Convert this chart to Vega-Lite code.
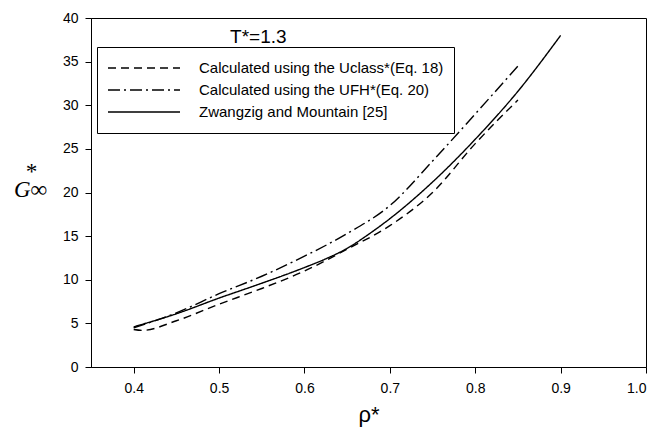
{
  "$schema": "https://vega.github.io/schema/vega-lite/v6.json",
  "autosize": {"type": "none"},
  "width": 555,
  "height": 349,
  "padding": {"left": 91, "top": 18, "right": 14, "bottom": 65},
  "background": "white",
  "config": {
    "view": {"stroke": "black", "strokeWidth": 1},
    "font": "Liberation Sans",
    "axis": {"labelFont": "Liberation Sans", "labelFontSize": 14, "labelColor": "black", "domainColor": "black", "tickColor": "black", "tickSize": 6, "grid": false}
  },
  "layer": [
    {
      "data": {"values": [
        {"s": "U_class", "rho": 0.40, "G": 4.3},
        {"s": "U_class", "rho": 0.41, "G": 4.2},
        {"s": "U_class", "rho": 0.45, "G": 5.3},
        {"s": "U_class", "rho": 0.50, "G": 7.2},
        {"s": "U_class", "rho": 0.55, "G": 9.0},
        {"s": "U_class", "rho": 0.60, "G": 11.0},
        {"s": "U_class", "rho": 0.65, "G": 13.5},
        {"s": "U_class", "rho": 0.70, "G": 16.2},
        {"s": "U_class", "rho": 0.75, "G": 20.0},
        {"s": "U_class", "rho": 0.80, "G": 25.6},
        {"s": "U_class", "rho": 0.85, "G": 30.6},
        {"s": "U_FH", "rho": 0.40, "G": 4.5},
        {"s": "U_FH", "rho": 0.45, "G": 6.2},
        {"s": "U_FH", "rho": 0.50, "G": 8.4},
        {"s": "U_FH", "rho": 0.55, "G": 10.4},
        {"s": "U_FH", "rho": 0.60, "G": 12.7},
        {"s": "U_FH", "rho": 0.65, "G": 15.3},
        {"s": "U_FH", "rho": 0.70, "G": 18.5},
        {"s": "U_FH", "rho": 0.75, "G": 23.6},
        {"s": "U_FH", "rho": 0.80, "G": 29.0},
        {"s": "U_FH", "rho": 0.85, "G": 34.5},
        {"s": "ZM", "rho": 0.40, "G": 4.6},
        {"s": "ZM", "rho": 0.45, "G": 6.1},
        {"s": "ZM", "rho": 0.50, "G": 7.9},
        {"s": "ZM", "rho": 0.55, "G": 9.6},
        {"s": "ZM", "rho": 0.60, "G": 11.4},
        {"s": "ZM", "rho": 0.625, "G": 12.4},
        {"s": "ZM", "rho": 0.65, "G": 13.6},
        {"s": "ZM", "rho": 0.675, "G": 15.2},
        {"s": "ZM", "rho": 0.70, "G": 17.0},
        {"s": "ZM", "rho": 0.75, "G": 21.2},
        {"s": "ZM", "rho": 0.80, "G": 26.1},
        {"s": "ZM", "rho": 0.85, "G": 31.6},
        {"s": "ZM", "rho": 0.90, "G": 38.0}
      ]},
      "mark": {"type": "line", "color": "black", "strokeWidth": 1.4, "interpolate": "monotone"},
      "encoding": {
        "x": {"field": "rho", "type": "quantitative",
              "scale": {"domain": [0.35, 1.0], "nice": false, "zero": false},
              "axis": {"values": [0.4, 0.5, 0.6, 0.7, 0.8, 0.9, 1.0], "format": ".1f", "labelPadding": 8,
                       "title": "ρ*", "titleFont": "Liberation Sans", "titleFontSize": 22, "titleFontWeight": "normal", "titleColor": "black", "titleY": 54, "titleBaseline": "alphabetic"}},
        "y": {"field": "G", "type": "quantitative",
              "scale": {"domain": [0, 40], "nice": false},
              "axis": {"values": [0, 5, 10, 15, 20, 25, 30, 35, 40], "labelPadding": 7,
                       "title": ["\u2003*", "G∞"], "titleLineHeight": 18, "titleFont": "Liberation Serif", "titleFontStyle": "italic", "titleFontSize": 23, "titleFontWeight": "normal", "titleColor": "black", "titleAngle": 0, "titleX": -61, "titleY": 160, "titleAlign": "center", "titleBaseline": "alphabetic"}},
        "strokeDash": {"field": "s", "type": "nominal",
          "scale": {"domain": ["U_class", "U_FH", "ZM"], "range": [[8, 5], [12, 4, 2, 4], [1, 0]]},
          "legend": {
            "title": null, "orient": "none", "legendX": 6, "legendY": 29,
            "strokeColor": "black", "padding": 10, "fillColor": "white",
            "labelExpr": "datum.value == 'U_class' ? 'Calculated using the Uclass*(Eq. 18)' : datum.value == 'U_FH' ? 'Calculated using the UFH*(Eq. 20)' : 'Zwangzig and Mountain [25]'",
            "labelFont": "Liberation Sans", "labelFontSize": 15, "labelColor": "black", "labelOffset": 18, "labelLimit": 400,
            "symbolType": "stroke", "symbolSize": 5184, "symbolStrokeColor": "black", "symbolStrokeWidth": 1.4,
            "clipHeight": 22, "rowPadding": 0
          }}
      }
    },
    {
      "data": {"values": [{"label": "T*=1.3"}]},
      "mark": {"type": "text", "fontSize": 19, "font": "Liberation Sans", "color": "black", "align": "center", "baseline": "alphabetic"},
      "encoding": {
        "text": {"field": "label", "type": "nominal"},
        "x": {"datum": 0.546, "type": "quantitative"},
        "y": {"datum": 37.1, "type": "quantitative"}
      }
    }
  ]
}
